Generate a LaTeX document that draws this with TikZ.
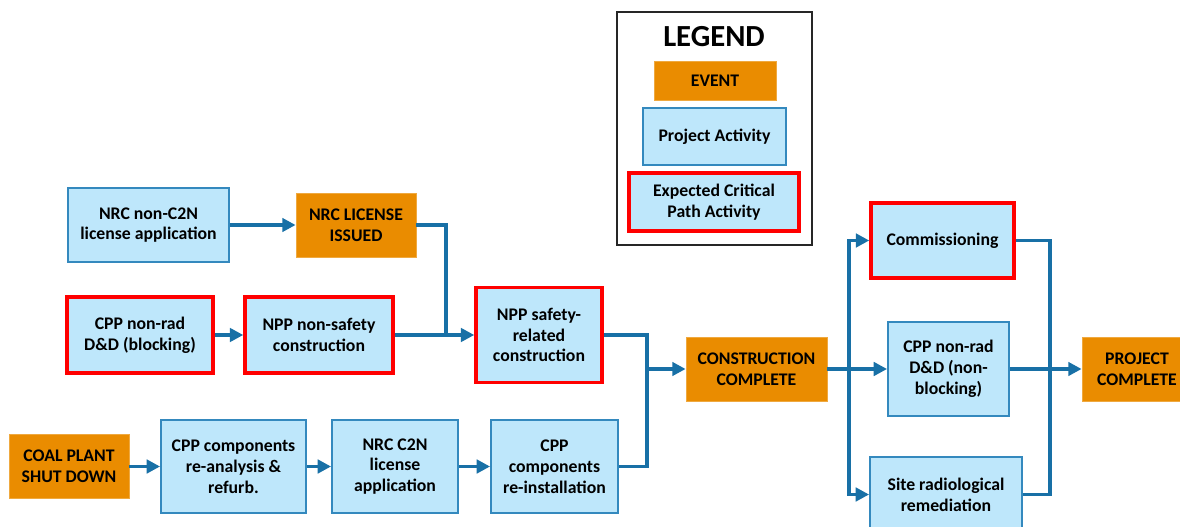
\documentclass[tikz,border=0pt]{standalone}
\usepackage{fontspec}
\setmainfont{Carlito}
\usetikzlibrary{arrows.meta}
\definecolor{evt}{RGB}{234,140,0}
\definecolor{actfill}{RGB}{190,231,251}
\definecolor{actdraw}{RGB}{52,137,190}
\definecolor{crit}{RGB}{255,0,0}
\definecolor{flow}{RGB}{24,112,166}
\begin{document}
\begin{tikzpicture}[x=0.75pt,y=-0.75pt,
  sz/.style n args={2}{minimum width=#1*0.75pt, minimum height=#2*0.75pt},
  box/.style={rectangle, align=center, font=\fontsize{13.3}{15.6}\selectfont\bfseries, inner sep=0pt, text=black},
  event/.style={box, fill=evt, draw=evt!75!white, line width=0.6pt},
  activity/.style={box, fill=actfill, draw=actdraw, line width=1.4pt},
  critical/.style={box, fill=actfill, draw=crit, line width=2.6pt},
  flowline/.style={draw=flow, line width=2.5pt},
  flowarrow/.style={flowline, -{Triangle[length=10pt,width=10pt]}}
]
\useasboundingbox (0,0) rectangle (1180,527);
\fill[white] (0,0) rectangle (1180,527);
\clip (0,0) rectangle (1180,527);

% legend
\node[draw=black!85, line width=1.5pt, sz={195}{233}] (legend) at (714.5,128.5) {};
\node[font=\fontsize{23}{26}\selectfont\bfseries] (legtitle) at (714,37) {LEGEND};
\node[event, sz={122}{39}] (lev) at (715,80.5) {EVENT};
\node[activity, sz={143}{57}] (lpa) at (714.5,136.5) {Project Activity};
\node[critical, sz={170}{58}] (lcp) at (714,202) {Expected Critical\\Path Activity};

% nodes
\node[activity, sz={161}{74}] (nrcapp) at (148.5,225) {NRC non-C2N\\license application};
\node[event, sz={120}{64}] (lic) at (356,225) {NRC LICENSE\\ISSUED};
\node[critical, sz={146}{76}] (cppblk) at (140,335) {CPP non-rad\\D\&D (blocking)};
\node[critical, sz={148}{76}] (nppns) at (319,335) {NPP non-safety\\construction};
\node[critical, sz={126}{95}] (nppsr) at (539,335) {NPP safety-\\related\\construction};
\node[event, sz={141}{64}] (cc) at (756.5,369) {CONSTRUCTION\\COMPLETE};
\node[critical, sz={143}{75}] (comm) at (942.5,240.5) {Commissioning};
\node[activity, sz={121}{94}] (cppnb) at (948.5,369) {CPP non-rad\\D\&D (non-\\blocking)};
\node[activity, sz={152}{75}] (site) at (946,494.5) {Site radiological\\remediation};
\node[event, sz={110}{64}] (pc) at (1137,369) {PROJECT\\COMPLETE};
\node[event, sz={120}{64}] (coal) at (69,466.5) {COAL PLANT\\SHUT DOWN};
\node[activity, sz={145}{93}] (refurb) at (233.5,466.5) {CPP components\\re-analysis \&\\refurb.};
\node[activity, sz={126}{93}] (c2n) at (395,466.5) {NRC C2N\\license\\application};
\node[activity, sz={127}{93}] (reinst) at (554.5,466.5) {CPP\\components\\re-installation};

% junctions
\coordinate (j1) at (446,335);
\coordinate (j2) at (647,369);
\coordinate (j3) at (849,369);
\coordinate (j4) at (1050,369);

% connectors
\draw[flowarrow] (nrcapp.east) -- (lic.west);
\draw[flowarrow] (cppblk.east) -- (nppns.west);
\draw[flowarrow] (nppns.east) -- (nppsr.west);
\draw[flowline] (lic.east) -| (j1);
\draw[flowarrow] (coal.east) -- (refurb.west);
\draw[flowarrow] (refurb.east) -- (c2n.west);
\draw[flowarrow] (c2n.east) -- (reinst.west);
\draw[flowline] (nppsr.east) -| (j2);
\draw[flowline] (reinst.east) -| (j2);
\draw[flowarrow] (j2) -- (cc.west);
\draw[flowline] (cc.east) -- (j3);
\draw[flowarrow] (j3) |- (comm.west);
\draw[flowarrow] (j3) |- (site.west);
\draw[flowarrow] (cc.east) -- (cppnb.west);
\draw[flowline] (comm.east) -| (j4);
\draw[flowline] (site.east) -| (j4);
\draw[flowarrow] (cppnb.east) -- (pc.west);
\end{tikzpicture}
\end{document}
